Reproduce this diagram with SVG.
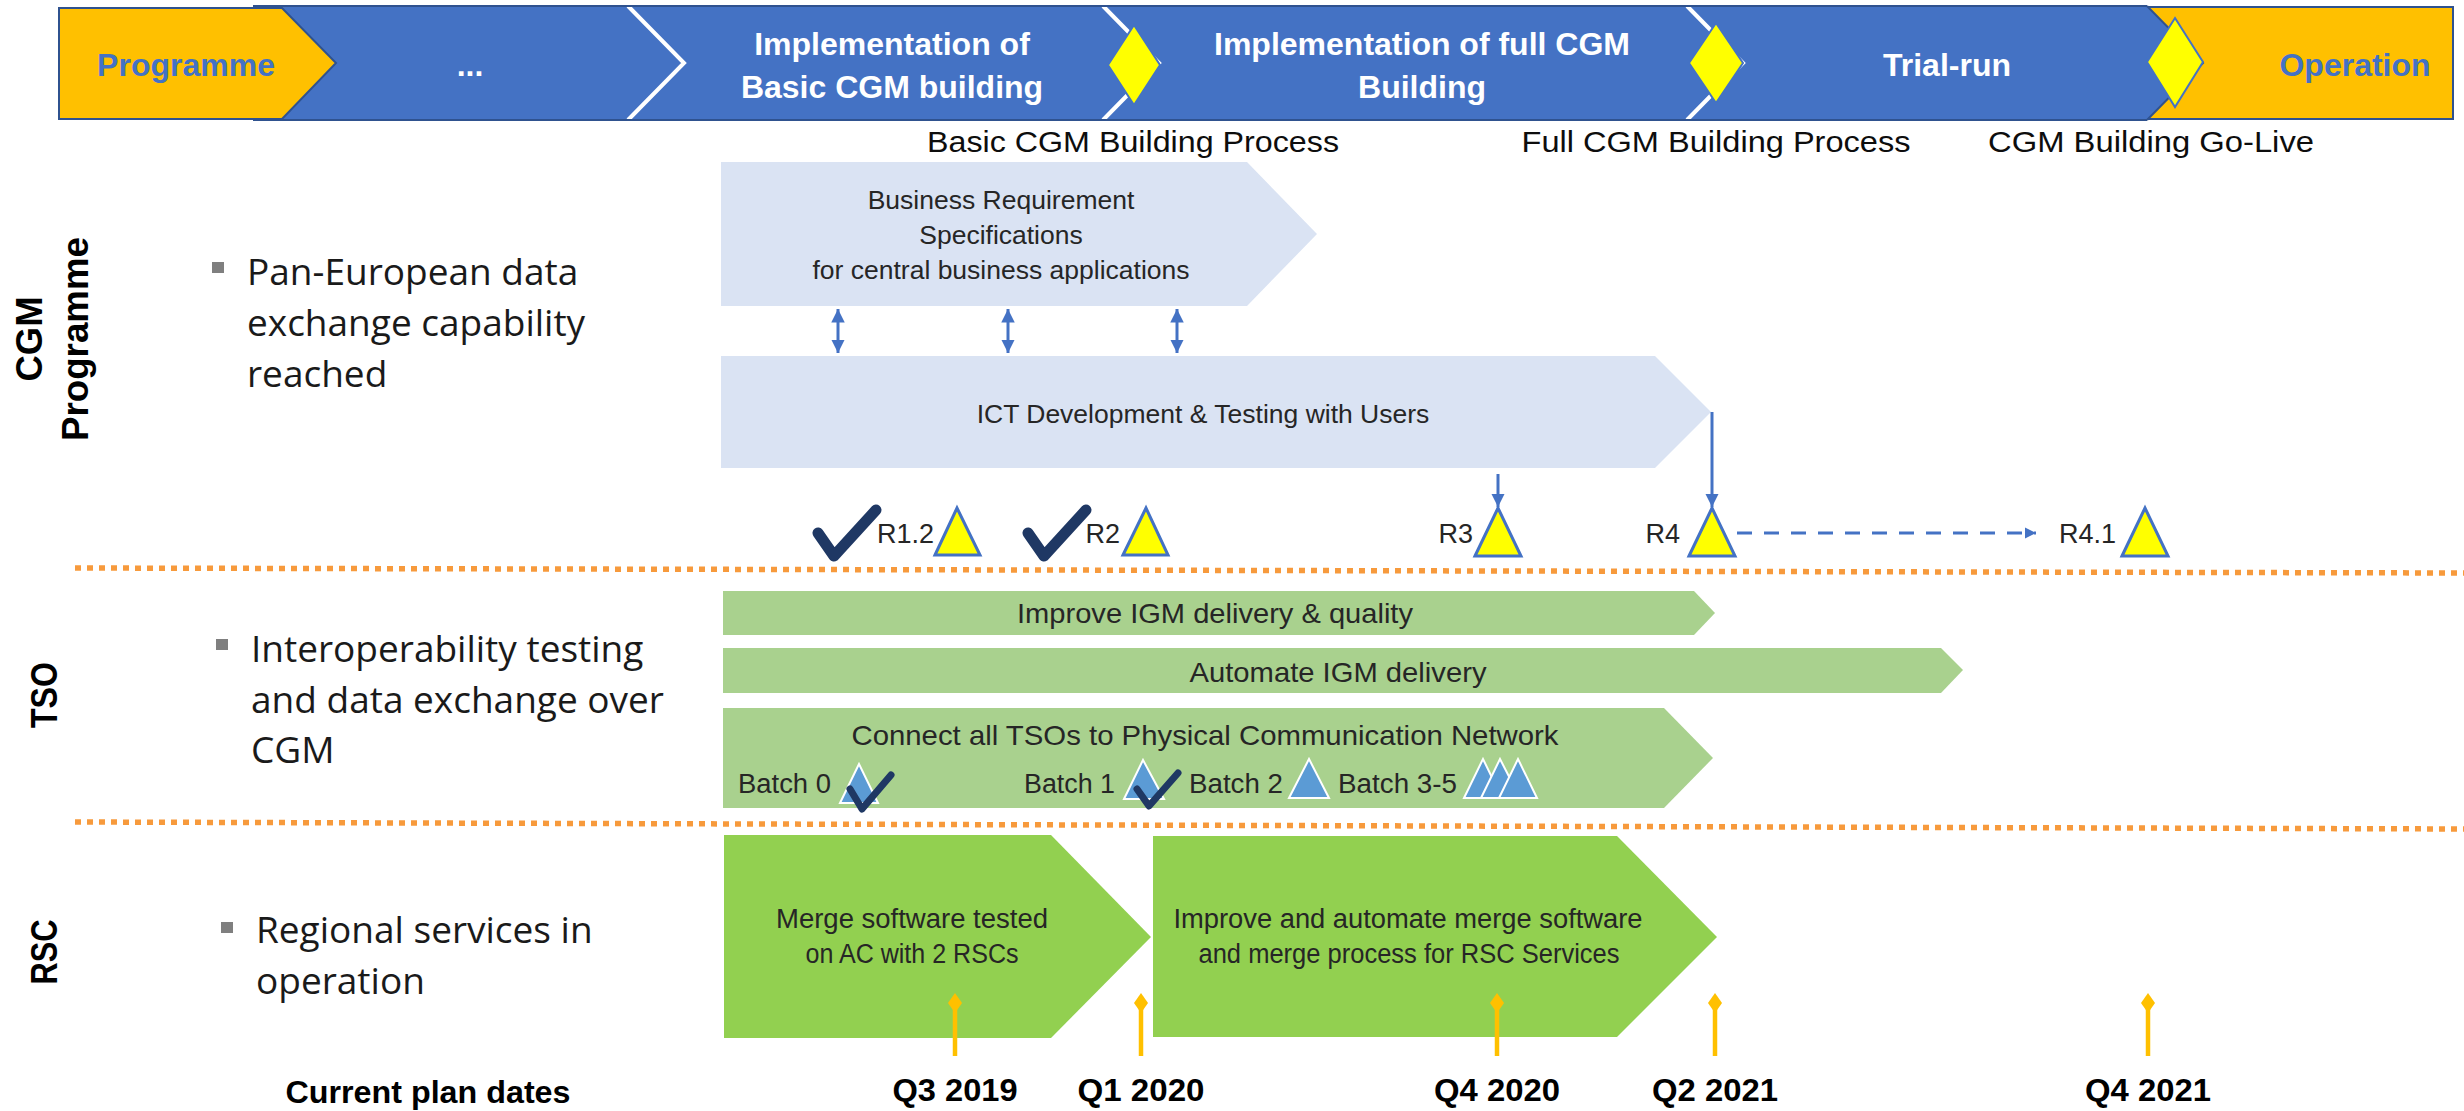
<svg xmlns="http://www.w3.org/2000/svg" width="2464" height="1111" viewBox="0 0 2464 1111">
<defs>
<style>
text { font-family: "Liberation Sans", Arial, sans-serif; }
.bn { font-size: 32px; font-weight: bold; fill: #ffffff; text-anchor: middle; }
.bo { font-size: 32px; font-weight: bold; fill: #4472C4; text-anchor: middle; }
.sub { font-size: 30px; fill: #0d0d0d; text-anchor: middle; }
.lane { font-size: 36px; font-weight: bold; fill: #000000; text-anchor: middle; }
.bul { font-family: "Open Sans", "Liberation Sans", sans-serif; font-size: 37px; fill: #1a1a1a; }
.bx { font-size: 26.5px; fill: #262626; text-anchor: middle; }
.tso { font-size: 28.5px; fill: #262626; text-anchor: middle; }
.bt { font-size: 27px; fill: #262626; }
.ms { font-size: 27px; fill: #262626; text-anchor: end; }
.rsc { font-size: 27px; fill: #262626; text-anchor: middle; }
.dt { font-size: 32px; font-weight: bold; fill: #000000; text-anchor: middle; }
.chev { fill: #4472C4; }
.cut { fill: none; stroke: #ffffff; stroke-width: 4; }
.dia { fill: #FFFF00; stroke: #4472C4; stroke-width: 2; }
.tri { fill: #FFFF00; stroke: #4472C4; stroke-width: 3; stroke-linejoin: miter; }
.btri { fill: #5B9BD5; stroke: #ffffff; stroke-width: 2; }
.chk { fill: none; stroke: #1F3864; stroke-linecap: round; stroke-linejoin: round; }
.sep { stroke: #F79A3C; stroke-width: 5.5; stroke-dasharray: 6 6; fill: none; }
.date { stroke: #FFC000; stroke-width: 4.5; }
.dd { fill: #FFC000; }
.conn { stroke: #4472C4; stroke-width: 3; fill: none; }
.lb { fill: #DAE3F3; }
.tg { fill: #A9D18E; }
.rg { fill: #92D050; }
.bsq { fill: #7F7F7F; }
</style>
<marker id="ah" viewBox="0 0 10 10" refX="10" refY="5" markerWidth="4.5" markerHeight="4.5" orient="auto-start-reverse" markerUnits="strokeWidth">
<path d="M0,0 L10,5 L0,10 z" fill="#4472C4"/>
</marker>
<marker id="ahd" viewBox="0 0 10 10" refX="10" refY="5" markerWidth="3.8" markerHeight="3.8" orient="auto" markerUnits="strokeWidth">
<path d="M0,0 L10,5 L0,10 z" fill="#4472C4"/>
</marker>
</defs>
<rect x="0" y="0" width="2464" height="1111" fill="#ffffff"/>

<!-- Top banner -->
<g id="banner">
  <rect id="operation-box" x="2147" y="7" width="306" height="112" fill="#FFC000" stroke="#2F528F" stroke-width="2"/>
  <polygon class="chev" points="253,6 627,6 683,63 627,120 253,120"/>
  <polygon class="chev" points="626,6 1101,6 1157,63 1101,120 626,120 682,63"/>
  <polygon class="chev" points="1102,6 1685,6 1741,63 1685,120 1102,120 1158,63"/>
  <polygon class="chev" points="1686,6 2147,6 2203,63 2147,120 1686,120 1742,63"/>
  <polyline class="cut" points="628,6 684,63 628,120"/>
  <polyline class="cut" points="1103,6 1159,63 1103,120"/>
  <polyline class="cut" points="1687,6 1743,63 1687,120"/>
  <polyline points="2147,6 2203,63 2147,120" fill="none" stroke="#2F528F" stroke-width="2"/>
  <line x1="253" y1="6" x2="2147" y2="6" stroke="#2F528F" stroke-width="2"/>
  <line x1="253" y1="120" x2="2147" y2="120" stroke="#2F528F" stroke-width="2"/>
  <polygon id="programme-box" points="59,8 282,8 336,63 282,119 59,119" fill="#FFC000" stroke="#2F528F" stroke-width="2"/>
  <text class="bo" x="186" y="76">Programme</text>
  <text class="bn" x="470" y="76">...</text>
  <text class="bn" x="892" y="55">Implementation of</text>
  <text class="bn" x="892" y="98">Basic CGM building</text>
  <text class="bn" x="1422" y="55">Implementation of full CGM</text>
  <text class="bn" x="1422" y="98">Building</text>
  <text class="bn" x="1947" y="76">Trial-run</text>
  <text class="bo" x="2355" y="76">Operation</text>
  <polygon class="dia" points="1134,25 1160,65 1134,105 1108,65"/>
  <polygon class="dia" points="1716,23 1743,63 1716,103 1689,63"/>
  <polygon class="dia" points="2175,18 2203,62 2175,107 2147,62"/>
</g>

<g id="gate-labels">
  <text class="sub" x="1133" y="152" textLength="412" lengthAdjust="spacingAndGlyphs">Basic CGM Building Process</text>
  <text class="sub" x="1716" y="152" textLength="389" lengthAdjust="spacingAndGlyphs">Full CGM Building Process</text>
  <text class="sub" x="2151" y="152" textLength="326" lengthAdjust="spacingAndGlyphs">CGM Building Go-Live</text>
</g>

<!-- Lane labels -->
<g id="lane-labels">
  <text class="lane" transform="translate(42,339) rotate(-90)" textLength="85" lengthAdjust="spacingAndGlyphs">CGM</text>
  <text class="lane" transform="translate(88,339) rotate(-90)" textLength="204" lengthAdjust="spacingAndGlyphs">Programme</text>
  <text class="lane" transform="translate(57,695) rotate(-90)" textLength="66" lengthAdjust="spacingAndGlyphs">TSO</text>
  <text class="lane" transform="translate(57,952) rotate(-90)" textLength="65" lengthAdjust="spacingAndGlyphs">RSC</text>
</g>

<g id="objectives">
  <rect class="bsq" x="212" y="262" width="12" height="11"/>
  <text class="bul" x="247" y="285">Pan-European data</text>
  <text class="bul" x="247" y="336">exchange capability</text>
  <text class="bul" x="247" y="387">reached</text>
  <rect class="bsq" x="216" y="639" width="12" height="11"/>
  <text class="bul" x="251" y="662">Interoperability testing</text>
  <text class="bul" x="251" y="713">and data exchange over</text>
  <text class="bul" x="251" y="763">CGM</text>
  <rect class="bsq" x="221" y="922" width="12" height="11"/>
  <text class="bul" x="256" y="943">Regional services in</text>
  <text class="bul" x="256" y="994">operation</text>
</g>

<g id="separators">
  <line class="sep" x1="75" y1="568" x2="2464" y2="573"/>
  <line class="sep" x1="75" y1="822" x2="2464" y2="829"/>
</g>

<!-- CGM programme lane -->
<g id="brs">
  <polygon class="lb" points="721,162 1247,162 1317,234 1247,306 721,306"/>
  <text class="bx" x="1001" y="209">Business Requirement</text>
  <text class="bx" x="1001" y="244">Specifications</text>
  <text class="bx" x="1001" y="279">for central business applications</text>
</g>
<g id="ict">
  <polygon class="lb" points="721,356 1655,356 1711,412 1655,468 721,468"/>
  <text class="bx" x="1203" y="423">ICT Development &amp; Testing with Users</text>
</g>

<g id="m-r12">
  <path class="chk" d="M818,533 L834,556 L876,510" stroke-width="11"/>
  <text class="ms" x="934" y="543">R1.2</text>
  <polygon class="tri" points="935,555 957,508 980,555"/>
</g>
<g id="m-r2">
  <path class="chk" d="M1028,533 L1044,556 L1086,510" stroke-width="11"/>
  <text class="ms" x="1120" y="543">R2</text>
  <polygon class="tri" points="1123,555 1146,508 1168,555"/>
</g>
<g id="m-r3">
  <text class="ms" x="1473" y="543">R3</text>
  <polygon class="tri" points="1475,556 1498,508 1521,556"/>
</g>
<g id="m-r4">
  <text class="ms" x="1680" y="543">R4</text>
  <polygon class="tri" points="1689,556 1712,508 1735,556"/>
</g>
<g id="m-r41">
  <text class="ms" x="2116" y="543">R4.1</text>
  <polygon class="tri" points="2122,556 2145,508 2168,556"/>
</g>

<g id="connectors">
  <line class="conn" x1="838" y1="309" x2="838" y2="353" marker-start="url(#ah)" marker-end="url(#ah)"/>
  <line class="conn" x1="1008" y1="309" x2="1008" y2="353" marker-start="url(#ah)" marker-end="url(#ah)"/>
  <line class="conn" x1="1177" y1="309" x2="1177" y2="353" marker-start="url(#ah)" marker-end="url(#ah)"/>
  <line class="conn" x1="1498" y1="474" x2="1498" y2="507" marker-end="url(#ah)"/>
  <line class="conn" x1="1712" y1="412" x2="1712" y2="507" marker-end="url(#ah)"/>
  <line class="conn" x1="1737" y1="533" x2="2036" y2="533" stroke-width="4" stroke-dasharray="15 12" marker-end="url(#ahd)"/>
</g>

<!-- TSO lane -->
<g id="tso-improve">
  <polygon class="tg" points="723,591 1694,591 1715,613 1694,635 723,635"/>
  <text class="tso" x="1215" y="623" textLength="396" lengthAdjust="spacingAndGlyphs">Improve IGM delivery &amp; quality</text>
</g>
<g id="tso-automate">
  <polygon class="tg" points="723,648 1941,648 1963,670 1941,693 723,693"/>
  <text class="tso" x="1338" y="682" textLength="297" lengthAdjust="spacingAndGlyphs">Automate IGM delivery</text>
</g>
<g id="tso-connect">
  <polygon class="tg" points="723,708 1664,708 1713,758 1664,808 723,808"/>
  <text class="tso" x="1205" y="745" textLength="707" lengthAdjust="spacingAndGlyphs">Connect all TSOs to Physical Communication Network</text>
</g>
<g id="batch0">
  <text class="bt" x="738" y="793" textLength="93" lengthAdjust="spacingAndGlyphs">Batch 0</text>
  <polygon class="btri" points="840,803 859,764 878,803"/>
  <path class="chk" d="M850,789 L862,809 L891,775" stroke-width="7"/>
</g>
<g id="batch1">
  <text class="bt" x="1024" y="793" textLength="91" lengthAdjust="spacingAndGlyphs">Batch 1</text>
  <polygon class="btri" points="1124,799 1143,760 1164,799"/>
  <path class="chk" d="M1137,789 L1149,806 L1178,773" stroke-width="7"/>
</g>
<g id="batch2">
  <text class="bt" x="1189" y="793" textLength="94" lengthAdjust="spacingAndGlyphs">Batch 2</text>
  <polygon class="btri" points="1289,798 1309,759 1329,798"/>
</g>
<g id="batch35">
  <text class="bt" x="1338" y="793" textLength="119" lengthAdjust="spacingAndGlyphs">Batch 3-5</text>
  <polygon class="btri" points="1464,798 1483,759 1502,798"/>
  <polygon class="btri" points="1481,798 1500,759 1520,798"/>
  <polygon class="btri" points="1499,798 1518,759 1537,798"/>
</g>

<!-- RSC lane -->
<g id="rsc-merge">
  <polygon class="rg" points="724,835 1051,835 1151,937 1051,1038 724,1038"/>
  <text class="rsc" x="912" y="928" textLength="272" lengthAdjust="spacingAndGlyphs">Merge software tested</text>
  <text class="rsc" x="912" y="963" textLength="213" lengthAdjust="spacingAndGlyphs">on AC with 2 RSCs</text>
</g>
<g id="rsc-improve">
  <polygon class="rg" points="1153,836 1617,836 1717,937 1617,1037 1153,1037"/>
  <text class="rsc" x="1408" y="928" textLength="469" lengthAdjust="spacingAndGlyphs">Improve and automate merge software</text>
  <text class="rsc" x="1409" y="963" textLength="421" lengthAdjust="spacingAndGlyphs">and merge process for RSC Services</text>
</g>

<!-- Dates -->
<g id="dates">
  <line class="date" x1="955" y1="1003" x2="955" y2="1056"/>
  <polygon class="dd" points="955,993 962,1003 955,1013 948,1003"/>
  <line class="date" x1="1141" y1="1003" x2="1141" y2="1056"/>
  <polygon class="dd" points="1141,993 1148,1003 1141,1013 1134,1003"/>
  <line class="date" x1="1497" y1="1003" x2="1497" y2="1056"/>
  <polygon class="dd" points="1497,993 1504,1003 1497,1013 1490,1003"/>
  <line class="date" x1="1715" y1="1003" x2="1715" y2="1056"/>
  <polygon class="dd" points="1715,993 1722,1003 1715,1013 1708,1003"/>
  <line class="date" x1="2148" y1="1003" x2="2148" y2="1056"/>
  <polygon class="dd" points="2148,993 2155,1003 2148,1013 2141,1003"/>
  <text class="dt" x="428" y="1103" textLength="285" lengthAdjust="spacingAndGlyphs">Current plan dates</text>
  <text class="dt" x="955" y="1101" textLength="125" lengthAdjust="spacingAndGlyphs">Q3 2019</text>
  <text class="dt" x="1141" y="1101" textLength="127" lengthAdjust="spacingAndGlyphs">Q1 2020</text>
  <text class="dt" x="1497" y="1101" textLength="126" lengthAdjust="spacingAndGlyphs">Q4 2020</text>
  <text class="dt" x="1715" y="1101" textLength="126" lengthAdjust="spacingAndGlyphs">Q2 2021</text>
  <text class="dt" x="2148" y="1101" textLength="126" lengthAdjust="spacingAndGlyphs">Q4 2021</text>
</g>
</svg>
